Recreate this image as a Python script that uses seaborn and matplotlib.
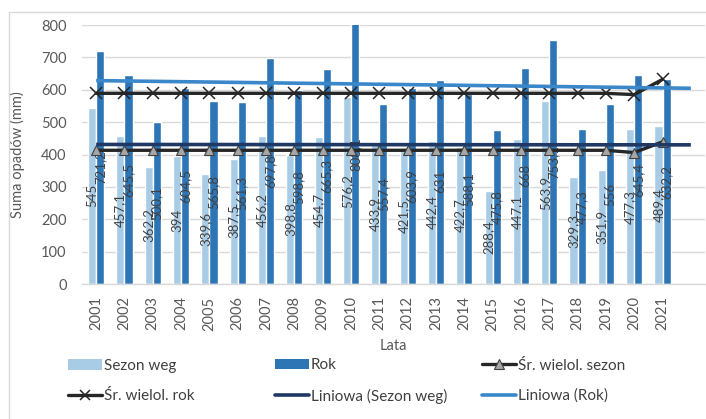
import numpy as np
import pandas as pd
import matplotlib
matplotlib.use("Agg")
import matplotlib.pyplot as plt
import seaborn as sns
from matplotlib.lines import Line2D
from matplotlib.patches import Patch

# Annual precipitation sums, 2001-2021
years = [str(y) for y in range(2001, 2022)]
sezon_weg = [545, 457.1, 362.2, 394, 339.6, 387.5, 456.2, 398.8, 454.7, 576.2, 433.9,
             421.5, 442.4, 422.7, 288.4, 447.1, 563.9, 329.3, 351.9, 477.3, 489.4]
rok = [721.2, 645.5, 500.1, 604.5, 565.8, 561.3, 697.8, 598.8, 665.3, 808.1, 557.4,
       603.9, 631, 588.1, 475.8, 668, 753.1, 477.3, 556, 645.4, 632.2]
sr_wielol_sezon = [413, 413, 413, 413, 413, 413, 413, 413, 413, 413, 413,
                   413, 413, 413, 413, 413, 413, 413, 413, 406, 439]
sr_wielol_rok = [589, 589, 589, 589, 589, 589, 589, 589, 589, 589, 589,
                 589, 589, 589, 589, 589, 589, 589, 589, 585, 632]
y_ticks = [0, 100, 200, 300, 400, 500, 600, 700, 800]

C_SEZON = "#A9CCE6"
C_ROK = "#2E75B6"
C_TREND_SEZON = "#1F3864"
C_TREND_ROK = "#3A87C9"
C_MEAN = "#262626"
C_TEXT = "#595959"
C_GRID = "#D9D9D9"

sns.set_theme(style="white")
plt.rcParams["font.family"] = ["Lato", "DejaVu Sans"]

W, H = 706, 419
fig = plt.figure(figsize=(W / 100, H / 100), dpi=100)
ax = fig.add_axes([82 / W, 1 - 284 / H, (705 - 82) / W, (284 - 25) / H])

df = pd.DataFrame({
    "Lata": years * 2,
    "Suma": sezon_weg + rok,
    "Seria": ["Sezon weg"] * len(years) + ["Rok"] * len(years),
})
sns.barplot(data=df, x="Lata", y="Suma", hue="Seria", palette=[C_SEZON, C_ROK],
            width=0.57, gap=0, saturation=1, errorbar=None, legend=False,
            ax=ax, zorder=2)


def fmt(v):
    return str(int(v)) if float(v).is_integer() else f"{v:.1f}".replace(".", ",")


for cont, vals in zip(ax.containers, [sezon_weg, rok]):
    ax.bar_label(cont, labels=[fmt(v) for v in vals], label_type="center",
                 rotation=90, fontsize=9.5, color="#404040", zorder=3)

x = np.arange(len(years))
# long-term means
ax.plot(x, sr_wielol_sezon, color=C_MEAN, lw=2.4, marker="^", ms=7,
        mfc="#A6A6A6", mec="#404040", mew=0.8, zorder=5)
ax.plot(x, sr_wielol_rok, color=C_MEAN, lw=2.4, marker="x", ms=8,
        mec=C_MEAN, mew=1.1, zorder=5)

# linear trends, extended one period forward
xt = np.array([0, len(years)])
for vals, col in [(sezon_weg, C_TREND_SEZON), (rok, C_TREND_ROK)]:
    a, b = np.polyfit(x, vals, 1)
    ax.plot(xt, a * xt + b, color=col, lw=2.6, zorder=6, solid_capstyle="butt")

ax.set_xlim(-0.5, len(years) + 0.5)
ax.set_ylim(0, 800)
ax.set_yticks(y_ticks)
ax.set_xticks(x)
ax.set_xticklabels(years, rotation=90)
ax.tick_params(axis="y", length=0, pad=11, labelsize=10.5, labelcolor=C_TEXT)
ax.tick_params(axis="x", length=0, pad=9, labelsize=10.5, labelcolor=C_TEXT)
ax.grid(axis="y", color=C_GRID, lw=1, zorder=0)
ax.set_axisbelow(True)
for s in ["top", "right", "left"]:
    ax.spines[s].set_visible(False)
ax.spines["bottom"].set_color(C_GRID)
ax.spines["bottom"].set_linewidth(1)

ax.set_ylabel("Suma opadów (mm)", fontsize=10.5, color=C_TEXT)
ax.yaxis.set_label_coords((25 - 82) / 623, 0.5)
ax.set_xlabel("Lata", fontsize=10.5, color=C_TEXT)
ax.xaxis.set_label_coords(0.5, (284 - 339) / 259)

h_sezon = Patch(facecolor=C_SEZON, edgecolor="none")
h_rok = Patch(facecolor=C_ROK, edgecolor="none")
h_msez = Line2D([], [], color=C_MEAN, lw=2.4, marker="^", ms=7,
                mfc="#A6A6A6", mec="#404040", mew=0.8)
h_mrok = Line2D([], [], color=C_MEAN, lw=2.4, marker="x", ms=7, mec=C_MEAN, mew=1.1)
h_tsez = Line2D([], [], color=C_TREND_SEZON, lw=2.6)
h_trok = Line2D([], [], color=C_TREND_ROK, lw=2.6)

columns = [
    (68, [h_sezon, h_mrok], ["Sezon weg", "Śr. wielol. rok"]),
    (275, [h_rok, h_tsez], ["Rok", "Liniowa (Sezon weg)"]),
    (482, [h_msez, h_trok], ["Śr. wielol. sezon", "Liniowa (Rok)"]),
]
for xpix, hs, ls in columns:
    leg = fig.legend(hs, ls, loc="center left",
                     bbox_to_anchor=(xpix / W, 1 - 381 / H),
                     frameon=False, fontsize=11, handlelength=2.2,
                     handletextpad=0.15, labelspacing=1.05,
                     borderpad=0, borderaxespad=0)
    for t in leg.get_texts():
        t.set_color("#404040")

# thin outer frame of the chart area
fig.add_artist(Line2D([9 / W, 9 / W], [0, 1 - 12 / H], transform=fig.transFigure,
                      color=C_GRID, lw=1))
fig.add_artist(Line2D([9 / W, 1], [1 - 12 / H, 1 - 12 / H], transform=fig.transFigure,
                      color=C_GRID, lw=1))

fig.savefig("out.png", dpi=100)
